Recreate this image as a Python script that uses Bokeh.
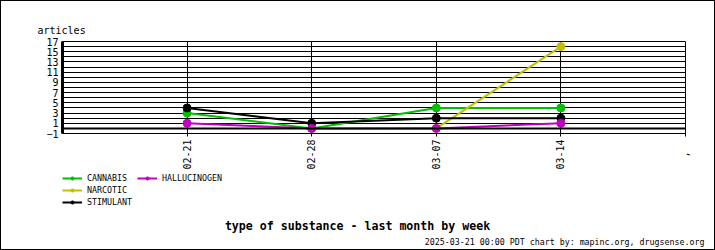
from bokeh.plotting import figure
from bokeh.models import (Range1d, FixedTicker, Legend, LegendItem, Title, Span, Label)
from bokeh.layouts import column
from bokeh.embed import file_html
from bokeh.resources import INLINE
import math

NaN = float("nan")

weeks = ["02-21", "02-28", "03-07", "03-14"]
cannabis = [3, 0, 4, 4]
hallucinogen = [1, 0, 0, 1]
narcotic = [NaN, NaN, 0, 16]
stimulant = [4, 1, 2, 2]

y_tick_labels = [-1, 1, 3, 5, 7, 9, 11, 13, 15, 17]

title_text = "type of substance - last month by week"
footer_text = "2025-03-21 00:00 PDT  chart by: mapinc.org, drugsense.org"

x = [i + 1 for i in range(len(weeks))]
x_end = len(weeks) + 1

MONO = "DejaVu Sans Mono"
ML, MR = 62, 30

# ---------- main chart ----------
p = figure(width=715, height=172, output_backend="svg", toolbar_location=None,
           x_range=Range1d(0, x_end), y_range=Range1d(-1, 17),
           min_border_left=ML, min_border_right=MR, min_border_top=41,
           min_border_bottom=38)
p.background_fill_color = "white"
p.border_fill_alpha = 0
p.outline_line_color = "black"
p.outline_line_width = 1
p.outline_line_alpha = 1

p.xgrid.ticker = FixedTicker(ticks=x)
p.ygrid.ticker = FixedTicker(ticks=list(range(-1, 18)))
for g in (p.xgrid, p.ygrid):
    g.grid_line_color = "black"
    g.grid_line_alpha = 1
    g.grid_line_width = 1

p.yaxis.ticker = FixedTicker(ticks=y_tick_labels)
p.yaxis.axis_line_width = 3
p.yaxis.axis_line_color = "black"
p.yaxis.major_tick_out = 0
p.yaxis.major_tick_in = 0
p.yaxis.minor_tick_line_color = None
p.yaxis.major_label_standoff = 4
p.yaxis.major_label_text_font = MONO
p.yaxis.major_label_text_font_size = "10px"
p.yaxis.major_label_text_color = "black"

labels = {xi: w for xi, w in zip(x, weeks)}
labels[x_end] = ",\u00a0\u00a0"
p.xaxis.ticker = FixedTicker(ticks=x + [x_end])
p.xaxis.major_label_overrides = labels
p.xaxis.major_label_orientation = math.pi / 2
p.xaxis.axis_line_color = "black"
p.xaxis.major_tick_out = 3
p.xaxis.major_tick_in = 0
p.xaxis.major_tick_line_color = "black"
p.xaxis.minor_tick_line_color = None
p.xaxis.major_label_standoff = 3
p.xaxis.major_label_text_font = MONO
p.xaxis.major_label_text_font_size = "10px"
p.xaxis.major_label_text_color = "black"

p.add_layout(Span(location=0, dimension="width", line_color="black", line_width=2))

series = [
    ("CANNABIS", cannabis, "#00C000"),
    ("NARCOTIC", narcotic, "#C0C000"),
    ("STIMULANT", stimulant, "#000000"),
    ("HALLUCINOGEN", hallucinogen, "#C000C0"),
]
for name, vals, col in series:
    p.line(x, vals, line_color=col, line_width=2)
    p.scatter(x, vals, size=8, fill_color=col, line_color=col)

p.add_layout(Title(text="articles", align="left", offset=-25, standoff=12,
                   text_font=MONO, text_font_size="10px", text_font_style="normal",
                   text_color="black"), "above")

# ---------- legend + captions strip (data units = page pixels) ----------
q = figure(width=715, height=78, output_backend="svg", toolbar_location=None,
           x_range=Range1d(ML, 715 - MR), y_range=Range1d(78, 0),
           x_axis_type=None, y_axis_type=None,
           min_border_left=ML, min_border_right=MR, min_border_top=0,
           min_border_bottom=0)
legend_x = 0
try:
    q.frame_align = False
    p.frame_align = False
    q.min_border_left = 0
    q.min_border_right = 0
    q.x_range = Range1d(0, 715)
    legend_x = ML
except Exception:
    pass

q.grid.visible = False
q.outline_line_color = None
q.background_fill_alpha = 0
q.border_fill_alpha = 0

items = []
for name, vals, col in series:
    l = q.line([NaN], [NaN], line_color=col, line_width=2)
    c = q.scatter([NaN], [NaN], size=8, fill_color=col, line_color=col)
    items.append(LegendItem(label=name, renderers=[l, c]))

legend = Legend(items=items, location=(legend_x, 43), nrows=3, orientation="vertical",
                glyph_width=20, glyph_height=8, label_height=8, label_width=48,
                label_standoff=5, spacing=2, padding=0, margin=0,
                border_line_color=None, background_fill_alpha=0,
                label_text_font=MONO, label_text_font_size="8.3px",
                label_text_color="black")
q.add_layout(legend, "center")

q.add_layout(Label(x=357, y=53, text=title_text, text_font=MONO,
                   text_font_size="11.6px", text_font_style="bold",
                   text_align="center", text_baseline="alphabetic", text_color="black"))
q.add_layout(Label(x=709, y=69, text=footer_text, text_font=MONO,
                   text_font_size="8.3px", text_align="right",
                   text_baseline="alphabetic", text_color="black"))

layout = column(p, q, spacing=0)
layout.styles = {"outline": "1px solid black", "outline-offset": "-1px",
                 "background-color": "white"}

open("out.html", "w").write(file_html(layout, INLINE))
